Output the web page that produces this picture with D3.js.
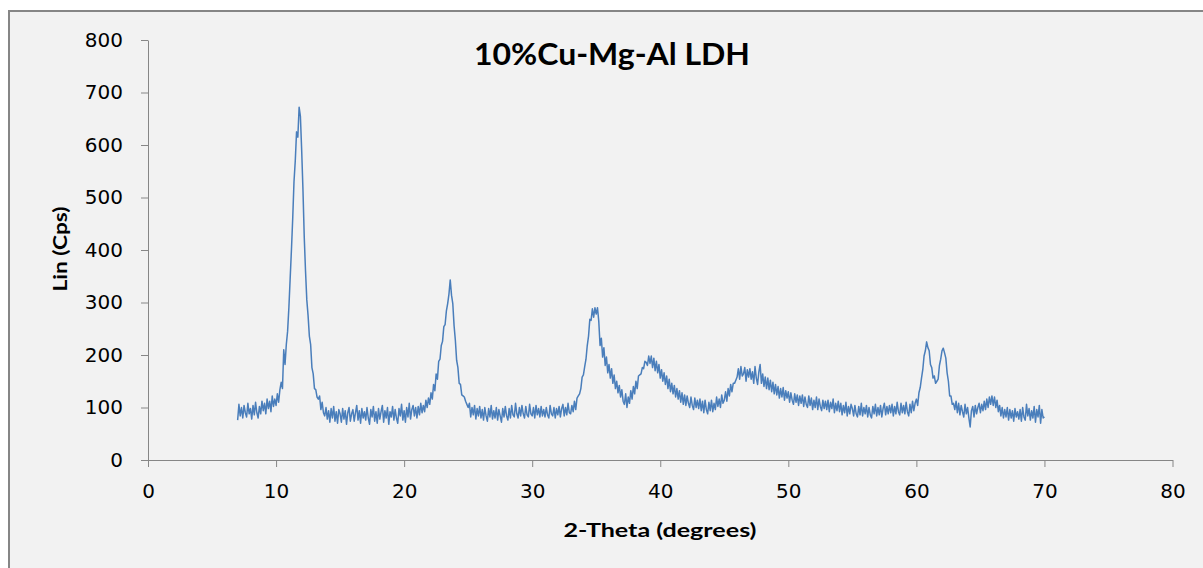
<!DOCTYPE html>
<html>
<head>
<meta charset="utf-8">
<script src="https://cdn.jsdelivr.net/npm/d3@7"></script>
<style>
  html, body { margin: 0; padding: 0; background: #ffffff; }
  svg { display: block; }
  .tick text { font-family: "DejaVu Sans", sans-serif; font-size: 20px; fill: #000; }
  .tick line, .domain { stroke: #868686; }
</style>
</head>
<body>
<script>
// XRD scan of 10%Cu-Mg-Al LDH, intensity in counts per second
const scanStart = 7.0;   // first 2-theta in the scan
const scanStep = 0.1;    // 2-theta step between readings

// intensity readings, one row per degree (x.0 ... x.9)
const intensity = [
  /* 7 */  76, 106, 84, 100, 80, 104, 90, 82, 108, 88,
  /* 8 */  98, 78, 104, 86, 110, 90, 80, 102, 88, 112,
  /* 9 */  94, 108, 88, 116, 98, 112, 92, 122, 102, 116,
  /* 10 */ 104, 126, 110, 134, 148, 136, 210, 182, 220, 245,
  /* 11 */ 290, 345, 400, 460, 530, 570, 625, 615, 672, 655,
  /* 12 */ 590, 515, 425, 360, 305, 275, 236, 220, 176, 164,
  /* 13 */ 136, 134, 120, 116, 122, 96, 110, 90, 84, 100,
  /* 14 */ 78, 94, 72, 98, 80, 102, 74, 92, 70, 96,
  /* 15 */ 88, 72, 98, 78, 94, 68, 90, 100, 74, 88,
  /* 16 */ 96, 74, 90, 104, 76, 94, 70, 98, 80, 92,
  /* 17 */ 76, 100, 80, 68, 96, 82, 102, 74, 92, 70,
  /* 18 */ 98, 78, 92, 104, 72, 94, 80, 100, 68, 92,
  /* 19 */ 82, 102, 76, 96, 80, 70, 98, 84, 106, 76,
  /* 20 */ 94, 72, 100, 82, 108, 78, 96, 104, 84, 100,
  /* 21 */ 80, 102, 86, 108, 90, 104, 92, 114, 100, 118,
  /* 22 */ 106, 128, 116, 144, 132, 164, 154, 188, 192, 218,
  /* 23 */ 226, 254, 258, 284, 298, 316, 343, 314, 298, 256,
  /* 24 */ 228, 190, 176, 146, 144, 124, 122, 120, 112, 106,
  /* 25 */ 100, 108, 82, 100, 86, 104, 78, 98, 84, 102,
  /* 26 */ 80, 96, 76, 100, 84, 74, 98, 82, 104, 78,
  /* 27 */ 94, 80, 100, 76, 96, 84, 72, 98, 82, 102,
  /* 28 */ 84, 76, 98, 80, 104, 86, 82, 108, 88, 80,
  /* 29 */ 100, 84, 104, 88, 80, 102, 86, 82, 106, 88,
  /* 30 */ 84, 100, 80, 104, 86, 98, 82, 102, 84, 96,
  /* 31 */ 82, 100, 86, 80, 104, 88, 84, 100, 80, 98,
  /* 32 */ 86, 102, 82, 98, 106, 84, 100, 86, 108, 90,
  /* 33 */ 88, 104, 92, 112, 96, 118, 122, 126, 136, 158,
  /* 34 */ 162, 178, 192, 218, 236, 268, 266, 288, 272, 290,
  /* 35 */ 278, 290, 264, 218, 232, 196, 214, 180, 196, 166,
  /* 36 */ 182, 156, 174, 146, 162, 136, 150, 128, 142, 120,
  /* 37 */ 134, 112, 106, 126, 100, 120, 108, 132, 116, 140,
  /* 38 */ 126, 150, 136, 160, 162, 164, 176, 174, 188, 186,
  /* 39 */ 180, 198, 184, 198, 176, 194, 170, 188, 166, 182,
  /* 40 */ 156, 172, 150, 166, 144, 160, 136, 154, 130, 146,
  /* 41 */ 126, 142, 120, 136, 116, 132, 110, 128, 106, 124,
  /* 42 */ 104, 122, 108, 100, 120, 104, 96, 118, 100, 114,
  /* 43 */ 98, 116, 94, 112, 90, 114, 96, 88, 110, 94,
  /* 44 */ 114, 92, 108, 96, 120, 102, 116, 100, 124, 108,
  /* 45 */ 114, 130, 112, 136, 122, 144, 130, 146, 146, 152,
  /* 46 */ 158, 174, 154, 178, 160, 164, 176, 150, 172, 158,
  /* 47 */ 174, 154, 168, 146, 178, 156, 144, 168, 182, 146,
  /* 48 */ 164, 140, 158, 136, 156, 134, 152, 130, 148, 126,
  /* 49 */ 144, 124, 140, 118, 136, 120, 138, 114, 132, 118,
  /* 50 */ 130, 110, 128, 114, 106, 126, 110, 124, 104, 122,
  /* 51 */ 108, 124, 102, 120, 106, 100, 122, 104, 118, 96,
  /* 52 */ 114, 100, 120, 96, 116, 102, 94, 114, 98, 112,
  /* 53 */ 96, 114, 92, 110, 98, 116, 90, 108, 94, 112,
  /* 54 */ 92, 108, 86, 104, 90, 110, 84, 102, 88, 106,
  /* 55 */ 98, 84, 104, 88, 82, 102, 86, 108, 84, 100,
  /* 56 */ 88, 104, 82, 100, 86, 80, 102, 88, 106, 84,
  /* 57 */ 100, 86, 104, 82, 98, 108, 86, 102, 88, 104,
  /* 58 */ 90, 106, 84, 102, 88, 110, 92, 86, 108, 90,
  /* 59 */ 104, 88, 110, 92, 84, 106, 90, 112, 94, 108,
  /* 60 */ 116, 104, 128, 138, 156, 172, 198, 208, 225, 214,
  /* 61 */ 208, 182, 176, 156, 160, 146, 150, 154, 180, 192,
  /* 62 */ 208, 213, 204, 194, 166, 150, 122, 122, 106, 108,
  /* 63 */ 96, 112, 90, 108, 86, 104, 92, 82, 106, 88,
  /* 64 */ 100, 80, 63, 94, 102, 82, 104, 88, 100, 108,
  /* 65 */ 90, 106, 94, 112, 96, 116, 100, 120, 106, 122,
  /* 66 */ 104, 120, 100, 114, 92, 104, 84, 100, 80, 96,
  /* 67 */ 82, 100, 76, 96, 80, 94, 74, 98, 82, 92,
  /* 68 */ 78, 96, 74, 100, 82, 76, 106, 84, 98, 76,
  /* 69 */ 94, 80, 102, 72, 96, 82, 104, 70, 96, 80,
  /* 70 */ 82
];

const xTicks = [0, 10, 20, 30, 40, 50, 60, 70, 80];
const yTicks = [0, 100, 200, 300, 400, 500, 600, 700, 800];

const chartTitle = "10%Cu-Mg-Al LDH";
const xTitle = "2-Theta (degrees)";
const yTitle = "Lin (Cps)";

const W = 1203, H = 568;
const plot = { left: 148, right: 1172.5, top: 40, bottom: 460 };

const svg = d3.select("body").append("svg")
  .attr("width", W).attr("height", H);

// chart area with its grey frame
svg.append("rect")
  .attr("x", 9).attr("y", 11)
  .attr("width", W + 40).attr("height", H + 40)
  .attr("fill", "#f2f2f2")
  .attr("stroke", "#868686")
  .attr("stroke-width", 2);

const x = d3.scaleLinear().domain([0, 80]).range([plot.left, plot.right]);
const y = d3.scaleLinear().domain([0, 800]).range([plot.bottom, plot.top]);

svg.append("g")
  .attr("transform", `translate(0,${plot.bottom})`)
  .call(d3.axisBottom(x).tickValues(xTicks).tickSize(7).tickSizeOuter(0).tickPadding(17).tickFormat(d3.format("d")));

svg.append("g")
  .attr("transform", `translate(${plot.left},0)`)
  .call(d3.axisLeft(y).tickValues(yTicks).tickSize(7).tickSizeOuter(0).tickPadding(18).tickFormat(d3.format("d")));

svg.selectAll(".domain").attr("stroke", "#868686").attr("stroke-width", 1);
svg.selectAll(".tick line").attr("stroke", "#868686");

// the diffraction trace
const points = intensity.map((v, i) => [scanStart + i * scanStep, v]);
svg.append("path")
  .datum(points)
  .attr("fill", "none")
  .attr("stroke", "#4a7ebb")
  .attr("stroke-width", 1.5)
  .attr("stroke-linejoin", "round")
  .attr("d", d3.line().x(d => x(d[0])).y(d => y(d[1])));

// titles
svg.append("text")
  .attr("x", 612).attr("y", 65)
  .attr("text-anchor", "middle")
  .attr("font-family", "Lato, sans-serif")
  .attr("font-weight", "bold")
  .attr("font-size", 30)
  .attr("textLength", 276)
  .attr("lengthAdjust", "spacingAndGlyphs")
  .attr("fill", "#000")
  .text(chartTitle);

svg.append("text")
  .attr("x", 660).attr("y", 537)
  .attr("text-anchor", "middle")
  .attr("font-family", "Lato, sans-serif")
  .attr("font-weight", "bold")
  .attr("font-size", 19.5)
  .attr("textLength", 193)
  .attr("lengthAdjust", "spacingAndGlyphs")
  .attr("fill", "#000")
  .text(xTitle);

svg.append("text")
  .attr("transform", "translate(67,249) rotate(-90)")
  .attr("text-anchor", "middle")
  .attr("font-family", "Lato, sans-serif")
  .attr("font-weight", "bold")
  .attr("font-size", 19.5)
  .attr("textLength", 85)
  .attr("lengthAdjust", "spacingAndGlyphs")
  .attr("fill", "#000")
  .text(yTitle);
</script>
</body>
</html>
